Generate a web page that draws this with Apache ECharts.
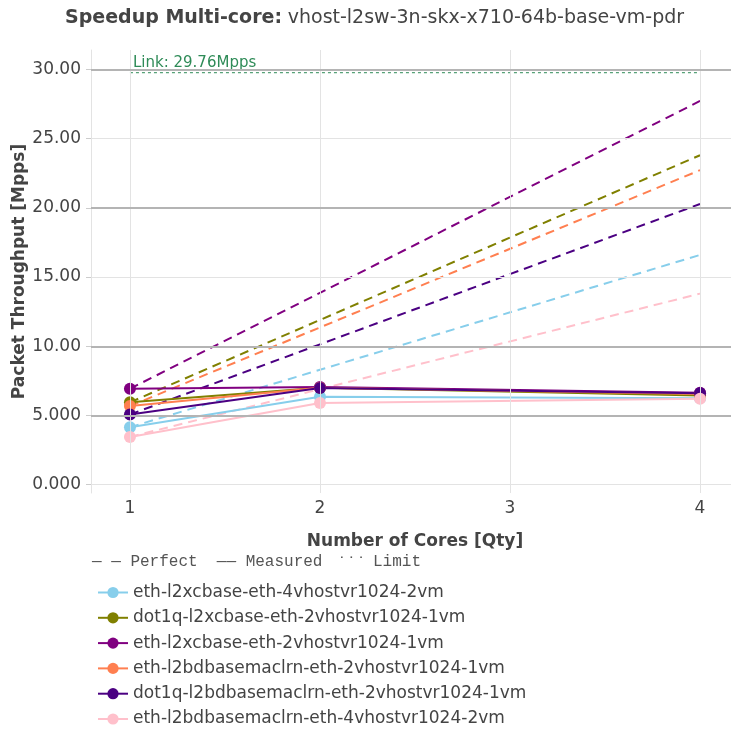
<!DOCTYPE html>
<html><head><meta charset="utf-8">
<script src="https://cdn.jsdelivr.net/npm/echarts@6/dist/echarts.min.js"></script>
<style>html,body{margin:0;padding:0;background:#fff}#c{width:731px;height:734px}</style>
</head><body><div id="c"></div>
<script>
// ---- data ----
const cores = [1, 2, 4];
const seriesNames = [
  'eth-l2xcbase-eth-4vhostvr1024-2vm',
  'dot1q-l2xcbase-eth-2vhostvr1024-1vm',
  'eth-l2xcbase-eth-2vhostvr1024-1vm',
  'eth-l2bdbasemaclrn-eth-2vhostvr1024-1vm',
  'dot1q-l2bdbasemaclrn-eth-2vhostvr1024-1vm',
  'eth-l2bdbasemaclrn-eth-4vhostvr1024-2vm'
];
const seriesColors = ['#87ceeb', '#808000', '#800080', '#ff7f50', '#4b0082', '#ffc0cb'];
const measured0 = [4.15, 6.35, 6.25];
const measured1 = [5.95, 7.00, 6.45];
const measured2 = [6.93, 7.05, 6.65];
const measured3 = [5.68, 7.00, 6.55];
const measured4 = [5.07, 6.98, 6.60];
const measured5 = [3.45, 5.90, 6.20];
const perfect0 = [4.15, 8.30, 16.60];
const perfect1 = [5.95, 11.90, 23.80];
const perfect2 = [6.93, 13.86, 27.72];
const perfect3 = [5.68, 11.36, 22.72];
const perfect4 = [5.07, 10.14, 20.28];
const perfect5 = [3.45, 6.90, 13.80];
const linkValue = 29.76;
const linkCores = [1, 4];
const xTicks = [1, 2, 3, 4];
const yTicks = [0, 5, 10, 15, 20, 25, 30];
const yDarkGrid = [5, 10, 20, 30];
const yLightGrid = [0, 15, 25];

const measured = [measured0, measured1, measured2, measured3, measured4, measured5];
const perfect = [perfect0, perfect1, perfect2, perfect3, perfect4, perfect5];

const FONT = 'DejaVu Sans';
const chart = echarts.init(document.getElementById('c'), null, {renderer: 'canvas'});

const series = [];
series.push({
  type: 'line', data: [], silent: true, z: 0,
  markLine: {
    silent: true, symbol: 'none', label: {show: false}, animation: false,
    data: [
      ...xTicks.map(v => ({xAxis: v, lineStyle: {color: '#e3e3e3', width: 1, type: 'solid'}})),
      ...yLightGrid.map(v => ({yAxis: v, lineStyle: {color: '#e3e3e3', width: 1, type: 'solid'}})),
      ...yDarkGrid.map(v => ({yAxis: v, lineStyle: {color: '#b4b4b4', width: 2, type: 'solid'}}))
    ]
  }
});
perfect.forEach((arr, i) => {
  series.push({
    name: seriesNames[i] + ' perfect', type: 'line', showSymbol: false, symbol: 'none',
    data: cores.map((c, k) => [c, arr[k]]),
    lineStyle: {color: seriesColors[i], width: 2, type: [9, 6]},
    itemStyle: {color: seriesColors[i]}, z: 2, animation: false
  });
});
series.push({
  name: 'Limit', type: 'line', symbol: 'none',
  data: linkCores.map(c => [c, linkValue]),
  lineStyle: {color: '#2e8b57', width: 1, type: [3, 3]}, z: 2, animation: false
});
measured.forEach((arr, i) => {
  series.push({
    name: seriesNames[i], type: 'line', symbol: 'circle', symbolSize: 12,
    data: cores.map((c, k) => [c, arr[k]]),
    lineStyle: {color: seriesColors[i], width: 2},
    itemStyle: {color: seriesColors[i]}, z: 3, animation: false
  });
});

const yFmt = v => (v < 10 ? v.toFixed(3) : v.toFixed(2));

chart.setOption({
  animation: false,
  textStyle: {fontFamily: FONT},
  title: {
    text: '{b|Speedup Multi-core:} {n|vhost-l2sw-3n-skx-x710-64b-base-vm-pdr}',
    left: 60, top: 4,
    textStyle: {fontWeight: 'normal', rich: {
      b: {fontFamily: FONT, fontWeight: 'bold', fontSize: 19, color: '#444'},
      n: {fontFamily: FONT, fontWeight: 'normal', fontSize: 19, color: '#444'}
    }}
  },
  grid: {left: 91, top: 50, right: 0, height: 443, containLabel: false},
  xAxis: {
    type: 'value', min: 0.795, max: 4.163,
    axisLine: {show: false}, axisTick: {show: false}, splitLine: {show: false},
    axisLabel: {customValues: xTicks, fontSize: 17, color: '#444', margin: 7, fontFamily: FONT},
    name: 'Number of Cores [Qty]', nameLocation: 'middle', nameGap: 40, nameMoveOverlap: false,
    nameTextStyle: {fontWeight: 'bold', fontSize: 17, color: '#444', fontFamily: FONT, padding: [0, 0, 0, 8]}
  },
  yAxis: {
    type: 'value', min: -0.6, max: 31.4,
    axisLine: {show: true, lineStyle: {color: '#e3e3e3', width: 1}},
    axisTick: {show: true, customValues: yTicks, length: 5, lineStyle: {color: '#cccccc'}},
    splitLine: {show: false},
    axisLabel: {customValues: yTicks, formatter: yFmt, fontSize: 17, color: '#444', margin: 10, fontFamily: FONT},
    name: 'Packet Throughput [Mpps]', nameLocation: 'middle', nameGap: 63, nameMoveOverlap: false,
    nameTextStyle: {fontWeight: 'bold', fontSize: 17, color: '#444', fontFamily: FONT}
  },
  legend: {
    data: seriesNames, orient: 'vertical', left: 97, top: 584, padding: 0,
    itemWidth: 30, itemHeight: 14, itemGap: 8.3,
    textStyle: {fontSize: 17, color: '#444', fontFamily: FONT}
  },
  series: series
});

const p = chart.convertToPixel({xAxisIndex: 0, yAxisIndex: 0}, [linkCores[0], linkValue]);
chart.setOption({
  graphic: [
    {type: 'text', left: p[0] + 3, top: p[1] - 17, silent: true,
     style: {text: 'Link: 29.76Mpps', fill: '#2e8b57', font: '15px ' + FONT}},
    {type: 'text', left: 92, top: 554, silent: true,
     style: {text: '— — Perfect  —— Measured', fill: '#555', font: '16px "Liberation Mono"'}},
    {type: 'text', left: 337, top: 557, silent: true,
     style: {text: '˙˙˙', fill: '#555', font: '16px "Liberation Mono"'}},
    {type: 'text', left: 373, top: 554, silent: true,
     style: {text: 'Limit', fill: '#555', font: '16px "Liberation Mono"'}}
  ]
});
</script></body></html>
